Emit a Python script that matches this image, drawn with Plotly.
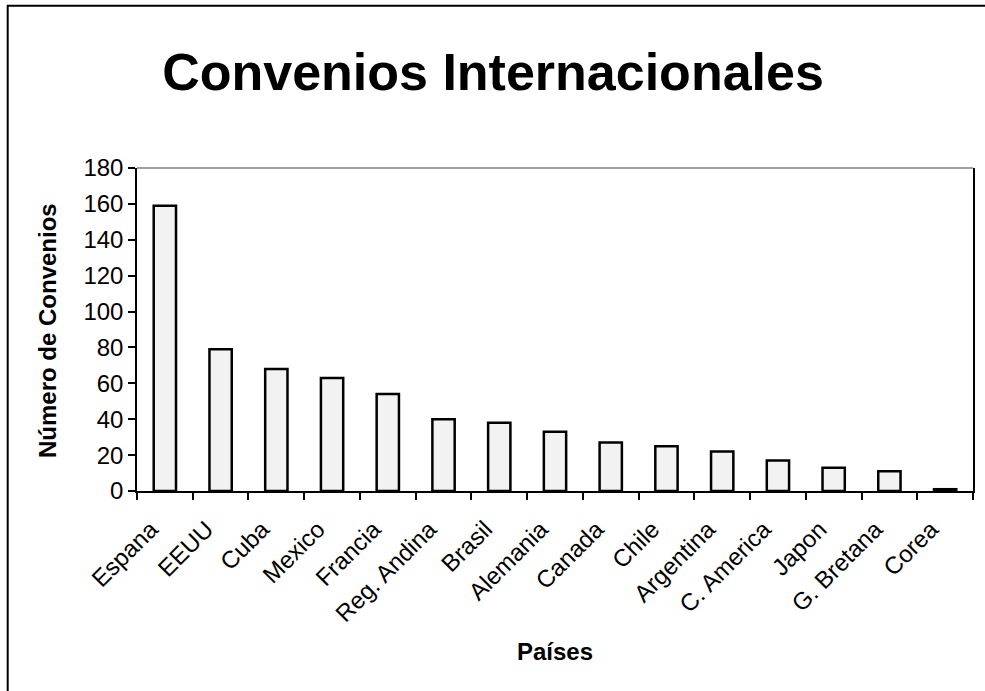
import plotly.graph_objects as go

paises = ["Espana", "EEUU", "Cuba", "Mexico", "Francia", "Reg. Andina", "Brasil",
          "Alemania", "Canada", "Chile", "Argentina", "C. America", "Japon",
          "G. Bretana", "Corea"]
convenios = [159, 79, 68, 63, 54, 40, 38, 33, 27, 25, 22, 17, 13, 11, 1]

y_ticks = [0, 20, 40, 60, 80, 100, 120, 140, 160, 180]

W, H = 985, 691
# reference pixel positions of the plot area
L_ref, R_ref, T_ref, B_ref = 137.3, 973.3, 167.7, 490.7
L = L_ref
T = T_ref
R = W - R_ref
B = H - B_ref
pw = W - L - R
ph = H - T - B

def px_x(px):
    return (px - L) / pw

def px_y(py):
    return (H - B - py) / ph

FONT = "Liberation Sans, Arial, sans-serif"
FS = 24

fig = go.Figure()
fig.add_trace(go.Bar(
    x=paises, y=convenios,
    marker=dict(color="#f2f2f2", line=dict(color="black", width=2.5)),
))

fig.update_layout(
    width=W, height=H,
    margin=dict(l=L, r=R, t=T, b=B, pad=0),
    paper_bgcolor="white", plot_bgcolor="white",
    bargap=0.6,
    showlegend=False,
    font=dict(family=FONT, size=FS, color="black"),
    title=dict(text="<b>Convenios Internacionales</b>", x=493 / W, xanchor="center",
               y=1 - 72 / H, yanchor="middle", xref="container", yref="container",
               font=dict(family=FONT, size=52, color="black")),
    xaxis=dict(
        tickangle=-45, showline=True, linecolor="black", linewidth=1.5,
        ticks="outside", ticklen=7, tickwidth=1.5, tickcolor="black",
        tickson="boundaries", showgrid=False, zeroline=False,
        ticklabelstandoff=13, ticklabelshift=-14,
        tickfont=dict(family=FONT, size=FS),
    ),
    yaxis=dict(
        range=[0, 180], tickvals=y_ticks, showline=True, linecolor="black",
        linewidth=1.5, mirror=True,
        ticks="outside", ticklen=7, tickwidth=1.5, tickcolor="black",
        showgrid=False, zeroline=False, tickfont=dict(family=FONT, size=FS),
    ),
    annotations=[
        dict(text="<b>Número de Convenios</b>", textangle=-90, xref="paper", yref="paper",
             x=px_x(48), y=px_y(330), xanchor="center", yanchor="middle", showarrow=False,
             font=dict(family=FONT, size=FS, color="black")),
        dict(text="<b>Países</b>", xref="paper", yref="paper",
             x=0.5, y=px_y(651), xanchor="center", yanchor="middle", showarrow=False,
             font=dict(family=FONT, size=FS, color="black")),
    ],
    shapes=[
        dict(type="line", xref="paper", yref="paper", x0=0, x1=1, y0=1, y1=1,
             line=dict(color="#808080", width=1.5)),
        dict(type="rect", xref="paper", yref="paper",
             x0=px_x(8), x1=px_x(1010), y0=px_y(720), y1=px_y(5.5),
             line=dict(color="black", width=2)),
    ],
)

fig.write_html("out.html",
               config={"displayModeBar": False},
               post_script="document.body.style.margin='0';document.body.style.padding='0';")
